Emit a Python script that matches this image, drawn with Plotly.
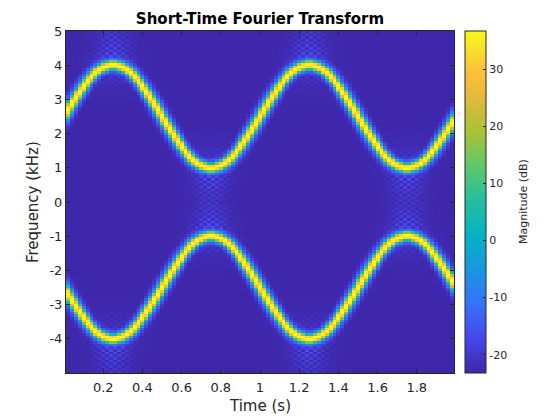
import numpy as np
import plotly.graph_objects as go

TITLE = "Short-Time Fourier Transform"
X_LABEL = "Time (s)"
Y_LABEL = "Frequency (kHz)"
CBAR_LABEL = "Magnitude (dB)"
X_TICKS = [0.2, 0.4, 0.6, 0.8, 1, 1.2, 1.4, 1.6, 1.8]
X_TEXT = ["0.2", "0.4", "0.6", "0.8", "1", "1.2", "1.4", "1.6", "1.8"]
Y_TICKS = [-4, -3, -2, -1, 0, 1, 2, 3, 4, 5]
Y_TEXT = ["-4", "-3", "-2", "-1", "0", "1", "2", "3", "4", "5"]
C_TICKS = [-20, -10, 0, 10, 20, 30]
C_TEXT = ["-20", "-10", "0", "10", "20", "30"]

# frame times (s) and upper ridge frequency (kHz)
TIMES = [round(0.02 * k, 2) for k in range(1, 100)]
RIDGE_KHZ = [
    2.69, 2.87, 3.05, 3.22, 3.38, 3.53, 3.66, 3.77, 3.86, 3.93, 3.97, 4.00, 4.00, 3.97, 3.93, 3.86, 3.77, 3.66, 3.53, 3.38,
    3.22, 3.05, 2.87, 2.69, 2.50, 2.31, 2.13, 1.95, 1.78, 1.62, 1.47, 1.34, 1.23, 1.14, 1.07, 1.03, 1.00, 1.00, 1.03, 1.07,
    1.14, 1.23, 1.34, 1.47, 1.62, 1.78, 1.95, 2.13, 2.31, 2.50,
    2.69, 2.87, 3.05, 3.22, 3.38, 3.53, 3.66, 3.77, 3.86, 3.93, 3.97, 4.00, 4.00, 3.97, 3.93, 3.86, 3.77, 3.66, 3.53, 3.38,
    3.22, 3.05, 2.87, 2.69, 2.50, 2.31, 2.13, 1.95, 1.78, 1.62, 1.47, 1.34, 1.23, 1.14, 1.07, 1.03, 1.00, 1.00, 1.03, 1.07,
    1.14, 1.23, 1.34, 1.47, 1.62, 1.78, 1.95, 2.13, 2.31,
]
# magnitude (dB) across the ridge
PROFILE_PX = [0, 1, 2, 3, 4, 5, 6.5, 9, 12]
PROFILE_DB = [37, 36, 31, 21, 9, -2, -13, -20, -23]
FLOOR_DB = -23
Z_RANGE = [-23.2, 36.7]

PARULA = [
    [0.0, "rgb(62,38,168)"], [0.1, "rgb(71,70,235)"], [0.2, "rgb(55,113,250)"], [0.3, "rgb(25,150,225)"],
    [0.4, "rgb(5,178,195)"], [0.5, "rgb(35,190,160)"], [0.6, "rgb(90,200,110)"], [0.7, "rgb(165,195,55)"],
    [0.8, "rgb(225,185,60)"], [0.875, "rgb(254,190,60)"], [0.95, "rgb(248,225,40)"], [1.0, "rgb(249,251,21)"],
]

PX_PER_KHZ = 34.2
PX_PER_S = 196.4
t = np.array(TIMES)
ridge = np.array(RIDGE_KHZ)
freqs = (np.arange(128) + 0.5) * 10 / 128 - 5
F, T = np.meshgrid(freqs, t, indexing="ij")
cols = np.arange(len(t))
rows = np.arange(len(freqs))
slope = np.gradient(ridge, t) * PX_PER_KHZ / PX_PER_S
curve = np.gradient(np.gradient(ridge, t), t)
checker = ((rows[:, None] + cols[None, :]) % 2).astype(float)


def one_ridge(r, s, c):
    dv = (F - r) * PX_PER_KHZ
    perp = np.abs(dv) / np.sqrt(1 + s ** 2)
    core = np.interp(perp, PROFILE_PX, PROFILE_DB)
    outer = (dv * (-c)) > 0
    reach = np.where(outer, 30.0, 11.0)
    weight = np.exp(-(s / 0.95) ** 2)
    lobe = FLOOR_DB + 10 * weight * np.exp(-np.abs(dv) / reach) * (0.2 + 0.8 * checker)
    return np.maximum(core, lobe)


z = np.maximum(one_ridge(ridge, slope, curve), one_ridge(-ridge, -slope, -curve))

fig = go.Figure(go.Heatmap(
    x=TIMES, y=freqs, z=z, zmin=Z_RANGE[0], zmax=Z_RANGE[1], colorscale=PARULA, zsmooth=False,
    hoverinfo="skip",
    colorbar=dict(
        x=(465 - 66) / 388, xanchor="left", y=0, yanchor="bottom", len=1, lenmode="fraction",
        thickness=21, thicknessmode="pixels", xpad=0, ypad=0,
        outlinecolor="#262626", outlinewidth=1,
        tickmode="array", tickvals=C_TICKS, ticktext=C_TEXT, ticks="inside", ticklen=3,
        tickcolor="#262626", tickfont=dict(family="DejaVu Sans", size=11, color="#262626"),
    ),
))
axis = dict(
    showgrid=False, zeroline=False, showline=True, linecolor="#262626", linewidth=1, mirror="ticks",
    ticks="inside", ticklen=4, tickcolor="#262626", tickmode="array", automargin=False,
    tickfont=dict(family="DejaVu Sans", size=13, color="#262626"),
)
label_font = dict(family="DejaVu Sans", size=15, color="#262626")
fig.update_layout(
    width=552, height=412, margin=dict(l=58, r=106, t=23, b=47), paper_bgcolor="white", plot_bgcolor="white",
    title=dict(text="<b>" + TITLE + "</b>", x=252 / 552, xanchor="center", y=1 - 11 / 412, yanchor="middle",
               font=dict(family="DejaVu Sans", size=15, color="black")),
    xaxis=dict(axis, range=[0.01, 1.99], tickvals=X_TICKS, ticktext=X_TEXT, ticklabelstandoff=2),
    yaxis=dict(axis, range=[-5, 5], tickvals=Y_TICKS, ticktext=Y_TEXT),
    annotations=[
        dict(text=CBAR_LABEL, textangle=-90, xref="paper", yref="paper", x=(523 - 66) / 388, y=0.5,
             xanchor="center", yanchor="middle", showarrow=False,
             font=dict(family="DejaVu Sans", size=11, color="#262626")),
        dict(text=X_LABEL, xref="paper", yref="paper", x=0.5, y=-(406 - 373) / 342,
             xanchor="center", yanchor="middle", showarrow=False, font=label_font),
        dict(text=Y_LABEL, textangle=-90, xref="paper", yref="paper", x=-(66 - 33) / 388, y=0.5,
             xanchor="center", yanchor="middle", showarrow=False, font=label_font),
    ],
)
fig.write_html("out.html")
